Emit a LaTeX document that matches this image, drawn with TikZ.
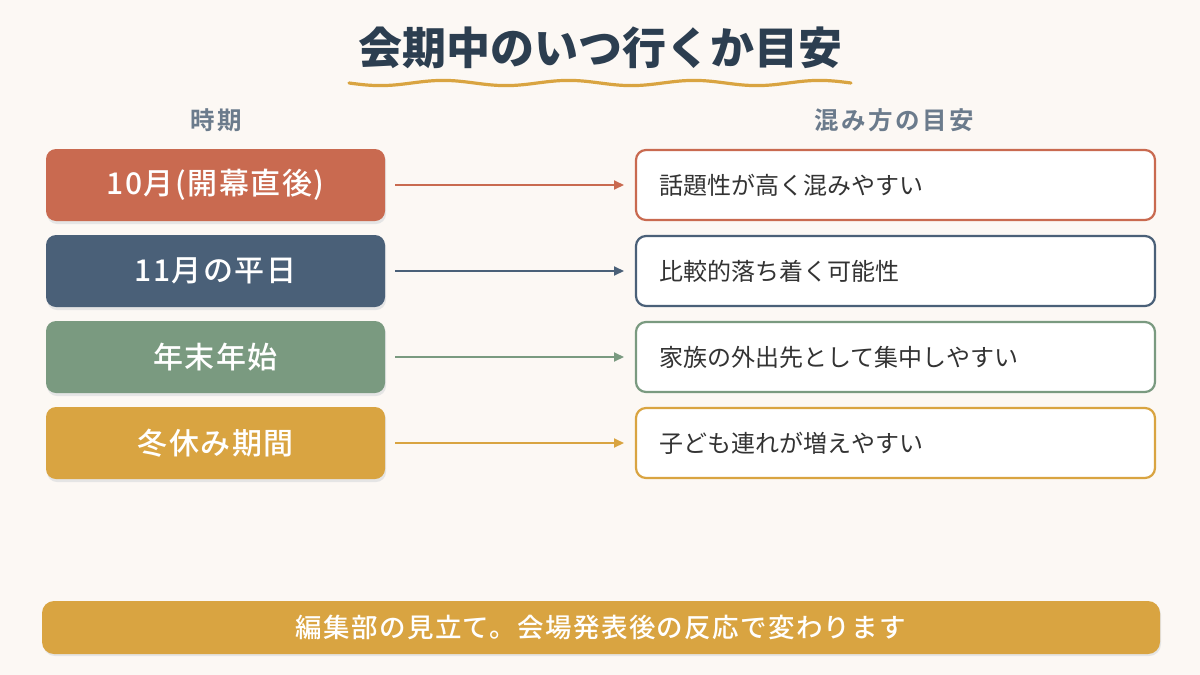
\documentclass[tikz,border=0pt]{standalone}
\usepackage{fontspec}
\setmainfont{Noto Sans CJK JP}
\newfontfamily\medfont{Noto Sans CJK JP}[UprightFont=* Medium]
\newfontfamily\medwide{Noto Sans CJK JP}[UprightFont=* Medium, LetterSpace=5]
\newfontfamily\headfont{Noto Sans CJK JP}[UprightFont=* Bold, LetterSpace=10]
\usetikzlibrary{arrows.meta}
\definecolor{bg}{HTML}{FCF8F4}
\definecolor{cA}{HTML}{C96A50}
\definecolor{cB}{HTML}{4A6078}
\definecolor{cC}{HTML}{7A9A80}
\definecolor{cD}{HTML}{D9A441}
\definecolor{titlec}{HTML}{2C3E50}
\definecolor{headc}{HTML}{6B7B8C}
\definecolor{bodyc}{HTML}{333333}
\tikzset{
  period/.style={fill=#1, rounded corners=10pt, minimum width=339pt, minimum height=72pt,
    text=white, font=\medwide\fontsize{30}{34}\selectfont, inner sep=0pt},
  guide/.style={draw=#1, line width=2.2pt, fill=white, rounded corners=10pt,
    minimum width=519pt, minimum height=70pt, inner sep=0pt},
  guidetext/.style={anchor=west, text=bodyc, font=\fontsize{24}{28}\selectfont, inner sep=0pt},
  conn/.style={draw=#1, line width=2pt, -{Triangle[length=10pt,width=9pt]}},
  head/.style={text=headc, font=\headfont\fontsize{24.5}{28}\selectfont}
}
\begin{document}
\begin{tikzpicture}[x=1pt,y=-1pt]
\useasboundingbox (0,0) rectangle (1200,675);
\fill[bg] (0,0) rectangle (1200,675);
% title
\node[text=titlec, font=\fontsize{44}{50}\selectfont\bfseries] (title) at (600,48) {会期中のいつ行くか目安};
\draw[cD, line width=3.2pt, line cap=round] plot[domain=349:851, samples=120, smooth] (\x, {83+2.6*sin((\x-349)/502*4*360)});
% headers
\node[head] (h1) at (216,120) {時期};
\node[head] (h2) at (894,120) {混み方の目安};
% rows
\foreach \i/\y/\c/\lt/\rt in {1/185/cA/{10月(開幕直後)}/{話題性が高く混みやすい},
                              2/271/cB/{11月の平日}/{比較的落ち着く可能性},
                              3/357/cC/{年末年始}/{家族の外出先として集中しやすい},
                              4/443/cD/{冬休み期間}/{子ども連れが増えやすい}}{
  \fill[black!10, rounded corners=10pt] (47,{\y-34}) rectangle (386,{\y+39});
  \node[period=\c] (L\i) at (215.5,\y) {\lt};
  \node[guide=\c] (R\i) at (895.5,\y) {};
  \node[guidetext] (T\i) at (659,\y) {\rt};
  \coordinate (s\i) at (395,\y);
  \coordinate (e\i) at (624,\y);
  \draw[conn=\c] (s\i) -- (e\i);
}
% footer
\fill[black!10, rounded corners=12pt] (43,603) rectangle (1161,656);
\node[fill=cD, rounded corners=12pt, minimum width=1118pt, minimum height=53pt, inner sep=0pt,
  text=white, font=\medwide\fontsize{26.5}{30}\selectfont] (foot) at (601,627.5) {編集部の見立て。会場発表後の反応で変わります};
\end{tikzpicture}
\end{document}
